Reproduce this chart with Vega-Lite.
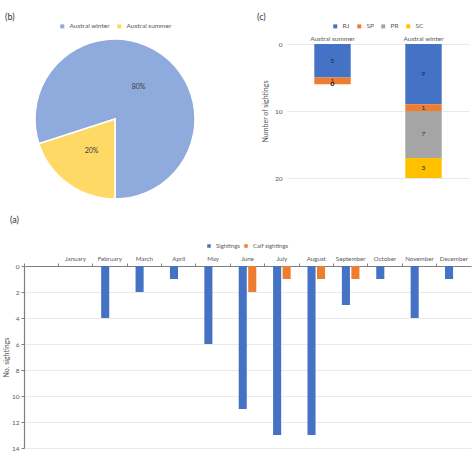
{
  "$schema": "https://vega.github.io/schema/vega-lite/v6.json",
  "padding": {"left": 2, "top": 13, "right": 2, "bottom": 2},
  "bounds": "full",
  "spacing": 14,
  "resolve": {"scale": {"color": "independent"}, "legend": {"color": "independent"}},
  "config": {
    "view": {"stroke": null},
    "font": "Lato",
    "axis": {"labelFont": "Lato", "labelFontSize": 6.5, "labelColor": "#595959", "titleFont": "Lato", "titleFontSize": 7, "titleFontWeight": "normal", "titleColor": "#595959", "gridColor": "#e3e3e3", "gridWidth": 0.8, "domainColor": "#7f7f7f", "tickColor": "#7f7f7f"},
    "legend": {"labelFont": "Lato", "labelFontSize": 6.5, "labelColor": "#595959", "symbolType": "square", "symbolSize": 16, "symbolStrokeWidth": 0, "orient": "top", "direction": "horizontal", "columnPadding": 6, "padding": 0, "layout": {"top": {"anchor": "middle"}}},
    "title": {"font": "Lato", "fontSize": 9, "fontWeight": "normal", "anchor": "start", "color": "#333333", "frame": "group", "offset": 1}
  },
  "vconcat": [
    {
      "hconcat": [
        {
          "width": 182,
          "height": 150,
          "title": {"text": "(b)", "dx": -19},
          "data": {"values": [
            {"season": "Austral winter", "pct": 80, "label": "80%"},
            {"season": "Austral summer", "pct": 20, "label": "20%"}
          ]},
          "encoding": {
            "theta": {"field": "pct", "type": "quantitative", "stack": true, "scale": {"range": [3.14159, 9.42478]}},
            "order": {"field": "pct", "type": "quantitative", "sort": "ascending"},
            "color": {"field": "season", "type": "nominal", "scale": {"domain": ["Austral winter", "Austral summer"], "range": ["#8FAADC", "#FFD966"]}, "legend": {"title": null, "offset": 14}}
          },
          "layer": [
            {"mark": {"type": "arc", "outerRadius": 80, "stroke": "white", "strokeWidth": 1.5}},
            {"mark": {"type": "text", "radius": 40, "fontSize": 7, "fill": "#404040"}, "encoding": {"text": {"field": "label"}, "color": {"value": "#404040"}}}
          ]
        },
        {
          "width": 182,
          "height": 134,
          "title": {"text": "(c)", "dx": -30},
          "data": {"values": [
            {"season": "Austral summer", "region": "RJ", "n": 5},
            {"season": "Austral summer", "region": "SP", "n": 1},
            {"season": "Austral summer", "region": "PR", "n": 0},
            {"season": "Austral summer", "region": "SC", "n": 0},
            {"season": "Austral winter", "region": "RJ", "n": 9},
            {"season": "Austral winter", "region": "SP", "n": 1},
            {"season": "Austral winter", "region": "PR", "n": 7},
            {"season": "Austral winter", "region": "SC", "n": 3}
          ]},
          "transform": [
            {"stack": "n", "groupby": ["season"], "as": ["y0", "y1"]},
            {"calculate": "(datum.y0 + datum.y1) / 2", "as": "mid"}
          ],
          "encoding": {
            "x": {"field": "season", "type": "nominal", "scale": {"domain": ["Austral summer", "Austral winter"], "paddingInner": 0.6, "paddingOuter": 0.3}, "axis": {"orient": "top", "title": null, "labelAngle": 0, "ticks": false, "domain": false, "labelPadding": 3}}
          },
          "layer": [
            {
              "mark": {"type": "bar"},
              "encoding": {
                "y": {"field": "y0", "type": "quantitative", "scale": {"domain": [0, 20], "reverse": true}, "axis": {"values": [0, 5, 10, 15, 20], "domain": false, "ticks": false, "labelPadding": 5, "title": "Number of sightings", "titlePadding": 6}},
                "y2": {"field": "y1"},
                "color": {"field": "region", "type": "nominal", "scale": {"domain": ["RJ", "SP", "PR", "SC"], "range": ["#4472C4", "#ED7D31", "#A5A5A5", "#FFC000"]}, "legend": {"title": null, "offset": 5}}
              }
            },
            {
              "mark": {"type": "text", "fontSize": 6.5, "fill": "#262626"},
              "encoding": {
                "y": {"field": "mid", "type": "quantitative"},
                "text": {"field": "n"}
              }
            }
          ]
        }
      ],
      "spacing": 81,
      "bounds": "flush",
      "resolve": {"scale": {"color": "independent"}, "legend": {"color": "independent"}}
    },
    {
      "width": 447,
      "height": 182,
      "title": {"text": "(a)", "dx": -14, "offset": 18},
      "data": {"values": [
        {"month": "January", "series": "Sightings", "n": 0},
        {"month": "February", "series": "Sightings", "n": 4},
        {"month": "March", "series": "Sightings", "n": 2},
        {"month": "April", "series": "Sightings", "n": 1},
        {"month": "May", "series": "Sightings", "n": 6},
        {"month": "June", "series": "Sightings", "n": 11},
        {"month": "July", "series": "Sightings", "n": 13},
        {"month": "August", "series": "Sightings", "n": 13},
        {"month": "September", "series": "Sightings", "n": 3},
        {"month": "October", "series": "Sightings", "n": 1},
        {"month": "November", "series": "Sightings", "n": 4},
        {"month": "December", "series": "Sightings", "n": 1},
        {"month": "January", "series": "Calf sightings", "n": 0},
        {"month": "February", "series": "Calf sightings", "n": 0},
        {"month": "March", "series": "Calf sightings", "n": 0},
        {"month": "April", "series": "Calf sightings", "n": 0},
        {"month": "May", "series": "Calf sightings", "n": 0},
        {"month": "June", "series": "Calf sightings", "n": 2},
        {"month": "July", "series": "Calf sightings", "n": 1},
        {"month": "August", "series": "Calf sightings", "n": 1},
        {"month": "September", "series": "Calf sightings", "n": 1},
        {"month": "October", "series": "Calf sightings", "n": 0},
        {"month": "November", "series": "Calf sightings", "n": 0},
        {"month": "December", "series": "Calf sightings", "n": 0}
      ]},
      "mark": {"type": "bar"},
      "encoding": {
        "x": {"field": "month", "type": "nominal", "scale": {"domain": [" ", "January", "February", "March", "April", "May", "June", "July", "August", "September", "October", "November", "December"], "paddingInner": 0, "paddingOuter": 0}, "axis": {"orient": "top", "title": null, "labelAngle": 0, "bandPosition": 0, "tickSize": 3, "labelPadding": 2, "domainWidth": 1.2, "labelFontSize": 6.2}},
        "xOffset": {"field": "series", "type": "nominal", "scale": {"domain": ["Sightings", "Calf sightings"], "paddingInner": 0.15, "paddingOuter": 0.885}},
        "y": {"field": "n", "type": "quantitative", "scale": {"domain": [0, 14], "reverse": true}, "axis": {"values": [0, 2, 4, 6, 8, 10, 12, 14], "tickSize": 3, "labelPadding": 2, "title": "No. sightings", "titlePadding": 2, "domainWidth": 1.2}},
        "color": {"field": "series", "type": "nominal", "scale": {"domain": ["Sightings", "Calf sightings"], "range": ["#4472C4", "#ED7D31"]}, "legend": {"title": null, "offset": 6, "labelFontSize": 6, "columnPadding": 3, "symbolSize": 12}}
      }
    }
  ]
}
